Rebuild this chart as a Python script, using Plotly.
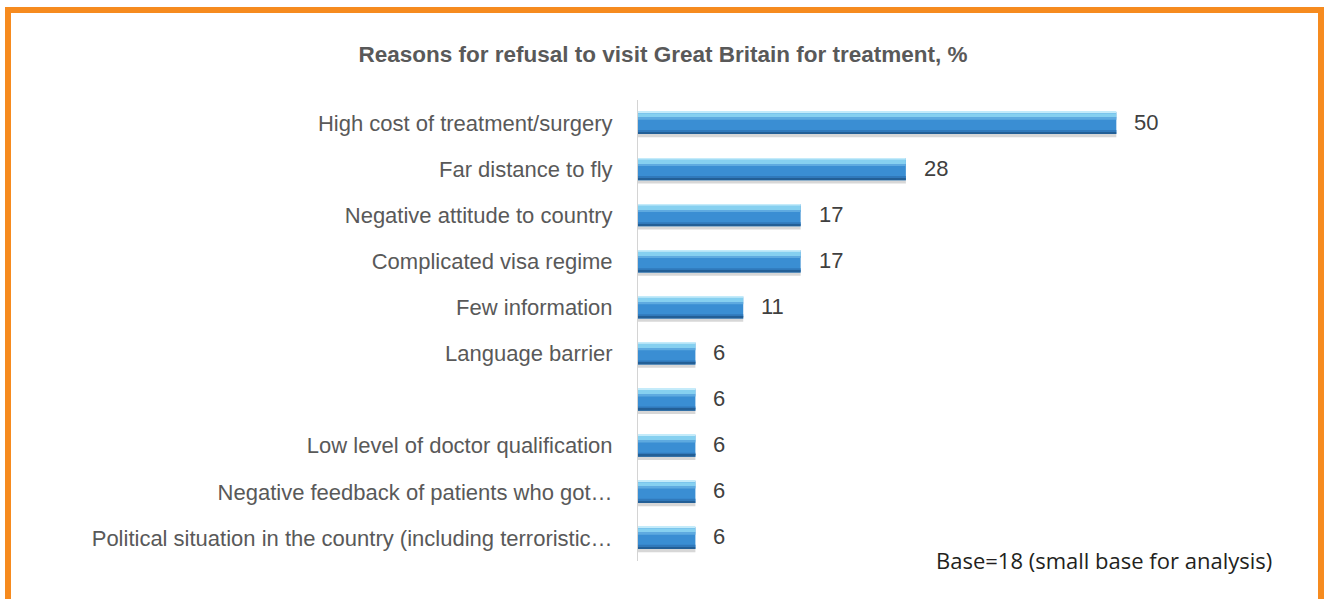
import plotly.graph_objects as go

# Survey data: reasons for refusal (%), top to bottom
reasons = [
    "High cost of treatment/surgery",
    "Far distance to fly",
    "Negative attitude to country",
    "Complicated visa regime",
    "Few information",
    "Language barrier",
    "",
    "Low level of doctor qualification",
    "Negative feedback of patients who got…",
    "Political situation in the country (including terroristic…",
]
shares = [50, 28, 17, 17, 11, 6, 6, 6, 6, 6]

title_text = "Reasons for refusal to visit Great Britain for treatment, %"
note_text = "Base=18 (small base for analysis)"

W, H = 1327, 599
ML, MR, MT, MB = 638, 115, 100, 38
PW, PH = W - ML - MR, H - MT - MB


def px_x(px):
    return (px - ML) / PW


def px_y(py):
    return (H - MB - py) / PH


pos = list(range(len(reasons)))

fig = go.Figure()

# bar body built from stacked colour bands for a bevelled look
bands = [
    # (offset, width, colour)
    (0.24, 0.07, "rgba(110,110,110,0.28)"),    # soft shadow below
    (-0.24, 0.48, "#3a8ed3"),                   # main body
    (-0.24, 0.03, "#c4ebfa"),                   # top edge
    (-0.21, 0.10, "#86d0f0"),                   # highlight
    (-0.11, 0.04, "#5eaae0"),                   # blend into body
    (0.15, 0.05, "#3079bb"),                    # slightly darker lower part
    (0.20, 0.04, "#235f96"),                    # bottom edge
]
for off, wd, col in bands:
    fig.add_trace(go.Bar(
        x=shares, y=pos, orientation="h",
        offset=off, width=wd,
        marker=dict(color=col, line=dict(width=0)),
        hoverinfo="skip", showlegend=False,
    ))

# value labels to the right of each bar
for p, v in zip(pos, shares):
    fig.add_annotation(
        x=v, y=p, xref="x", yref="y", text=str(v),
        showarrow=False, xanchor="left", xshift=16, yshift=1,
        font=dict(family="Liberation Sans, Arial", size=22, color="#404040"),
    )

fig.add_annotation(
    x=px_x(1274), y=px_y(560), xref="paper", yref="paper",
    text=note_text, showarrow=False, xanchor="right", yanchor="middle",
    font=dict(family="Open Sans, Noto Sans", size=22, color="#231f20"),
)

# orange frame around the figure
fig.add_shape(
    type="rect", xref="paper", yref="paper",
    x0=px_x(8), x1=px_x(1321), y0=px_y(612), y1=px_y(10),
    line=dict(color="#f68b1f", width=6), layer="above",
)

fig.update_layout(
    width=W, height=H,
    margin=dict(l=ML, r=MR, t=MT, b=MB),
    paper_bgcolor="white", plot_bgcolor="white",
    barmode="overlay",
    title=dict(
        text=f"<b>{title_text}</b>",
        xref="container", yref="container",
        x=663 / W, y=1 - 54 / H, xanchor="center", yanchor="middle",
        font=dict(family="Liberation Sans, Arial", size=22.5, color="#595959"),
    ),
    xaxis=dict(
        range=[0, 60], showgrid=False, zeroline=False,
        showticklabels=False, showline=False,
    ),
    yaxis=dict(
        range=[9.5, -0.5], tickmode="array", tickvals=pos, ticktext=reasons,
        showgrid=False, zeroline=False, showline=True,
        linecolor="#d4d4d4", linewidth=1, ticks="",
        ticklabelstandoff=20,
        tickfont=dict(family="Liberation Sans, Arial", size=22, color="#595959"),
    ),
)

fig.write_html("out.html")
